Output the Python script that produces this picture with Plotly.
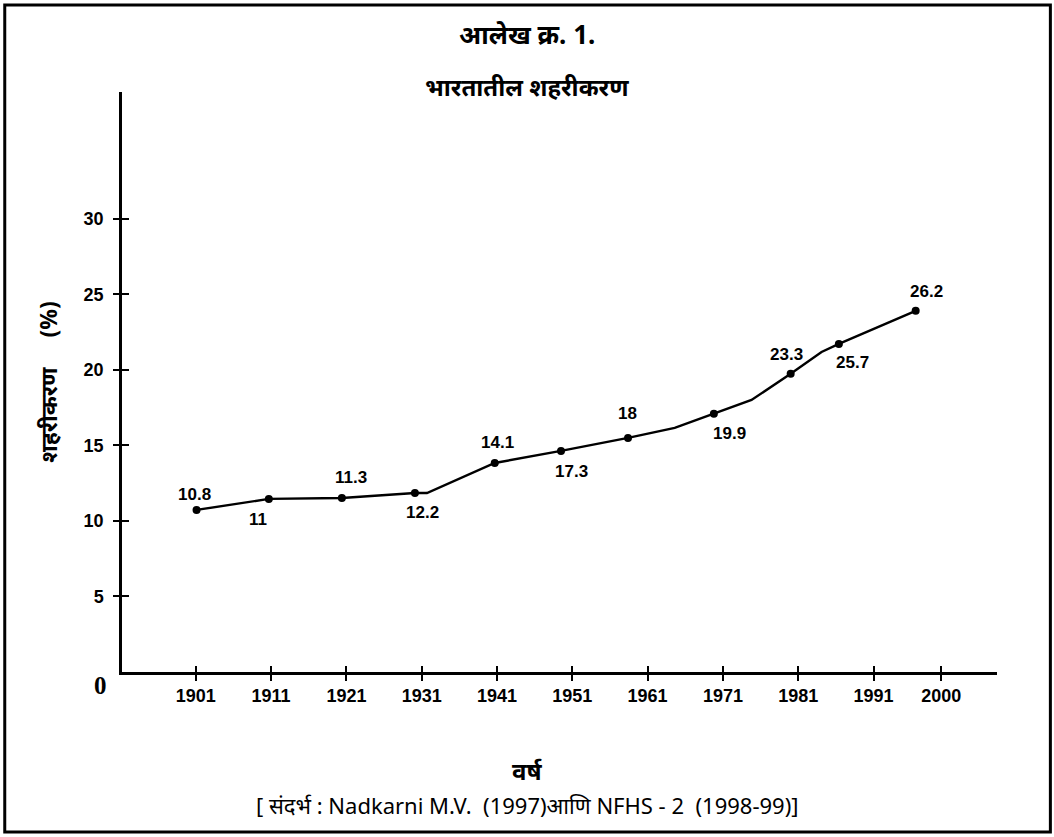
import plotly.graph_objects as go

# ---- data ----
point_years = [1901.1, 1910.7, 1920.4, 1930.1, 1940.7, 1949.5, 1958.4, 1969.8, 1980.0, 1986.4, 1996.6]
point_values = [10.73, 11.46, 11.52, 11.85, 13.84, 14.64, 15.5, 17.09, 19.74, 21.72, 23.91]
point_labels = ["10.8", "11", "11.3", "12.2", "14.1", "17.3", "18", "19.9", "23.3", "25.7", "26.2"]

# unmarked bends of the drawn line
bend_years = [1931.7, 1964.6, 1974.8, 1984.1]
bend_values = [11.85, 16.16, 18.01, 21.19]

x_tick_vals = [1901, 1911, 1921, 1931, 1941, 1951, 1961, 1971, 1981, 1991, 2000]
x_tick_text = ["1901", "1911", "1921", "1931", "1941", "1951", "1961", "1971", "1981", "1991", "2000"]
y_tick_vals = [5, 10, 15, 20, 25, 30]
y_tick_text = ["5", "10", "15", "20", "25", "30"]

title_text = "आलेख क्र. 1."
subtitle_text = "भारतातील शहरीकरण"
x_title = "वर्ष"
y_title = "शहरीकरण\u00a0\u00a0\u00a0\u00a0\u00a0(%)"
source_text = "[ संदर्भ : Nadkarni M.V.  (1997)आणि NFHS - 2  (1998-99)]"
zero_text = "0"

# label offsets (style: pixels)
label_dx = [-2, -11, 9, 8, 3, 10, -1, 16, -4, 14, 11]
label_dy = [15, -21, 21, -19, 20, -21, 24, -20, 19, -19, 19]

path = sorted(zip(point_years + bend_years, point_values + bend_values))
path_x = [p[0] for p in path]
path_y = [p[1] for p in path]

NUM_FONT = "Liberation Sans Narrow, Arial Narrow, Liberation Sans, Arial, sans-serif"
DEV_FONT = "Noto Sans, Noto Sans Devanagari, Lohit Devanagari, sans-serif"
X_RANGE = [1891.2, 2007.4]
Y_RANGE = [0, 38.4]

fig = go.Figure()
fig.add_trace(go.Scatter(x=path_x, y=path_y, mode="lines",
                         line=dict(color="black", width=2.4), hoverinfo="skip",
                         showlegend=False))
fig.add_trace(go.Scatter(x=point_years, y=point_values, mode="markers",
                         marker=dict(color="black", size=8),
                         showlegend=False))
# invisible trace to carry the overlay axes (inner half of the crossing ticks)
fig.add_trace(go.Scatter(x=point_years, y=point_values, mode="markers",
                         marker=dict(opacity=0), xaxis="x2", yaxis="y2",
                         hoverinfo="skip", showlegend=False))

for x, y, t, dx, dy in zip(point_years, point_values, point_labels, label_dx, label_dy):
    fig.add_annotation(x=x, y=y, text=t, showarrow=False, xshift=dx, yshift=dy,
                       xanchor="center", yanchor="middle",
                       font=dict(family=NUM_FONT, size=17, color="black", weight="bold"))

tick_font = dict(family=NUM_FONT, size=18, color="black", weight="bold")
fig.update_layout(
    xaxis=dict(range=X_RANGE, tickvals=x_tick_vals, ticktext=x_tick_text,
               showline=True, linecolor="black", linewidth=2.5,
               ticks="outside", ticklen=6, tickwidth=2, tickcolor="black",
               showgrid=False, zeroline=False, tickfont=tick_font),
    yaxis=dict(range=Y_RANGE, tickvals=y_tick_vals, ticktext=y_tick_text,
               showline=True, linecolor="black", linewidth=2.5,
               ticks="outside", ticklen=6, tickwidth=2, tickcolor="black",
               ticklabelstandoff=6,
               showgrid=False, zeroline=False, tickfont=tick_font),
    xaxis2=dict(range=X_RANGE, tickvals=x_tick_vals, overlaying="x", anchor="y2",
                ticks="inside", ticklen=6, tickwidth=2, tickcolor="black",
                showticklabels=False, showline=False, showgrid=False, zeroline=False),
    yaxis2=dict(range=Y_RANGE, tickvals=y_tick_vals, overlaying="y", anchor="x2", side="left",
                ticks="inside", ticklen=7, tickwidth=2, tickcolor="black",
                showticklabels=False, showline=False, showgrid=False, zeroline=False),
)

# titles and texts
def paper_text(x, y, text, size, bold=True, angle=0, family=DEV_FONT):
    fig.add_annotation(xref="paper", yref="paper", x=x, y=y, text=text, textangle=angle,
                       xanchor="center", yanchor="middle", showarrow=False,
                       font=dict(family=family, size=size, color="black",
                                 weight="bold" if bold else "normal"))

paper_text(0.463, 1.100, title_text, 26)
paper_text(0.463, 1.010, subtitle_text, 24)
paper_text(0.463, -0.169, x_title, 24)
paper_text(0.463, -0.229, source_text, 22, bold=False)
paper_text(-0.085, 0.50, y_title, 23, angle=-90)
paper_text(-0.025, -0.024, zero_text, 25, family="Liberation Serif, serif")

# outer frame of the figure
fig.add_shape(type="rect", xref="paper", yref="paper", x0=-0.134, x1=1.061, y0=-0.276, y1=1.150,
              line=dict(color="black", width=3))

fig.update_layout(width=1054, height=837, plot_bgcolor="white", paper_bgcolor="white",
                  margin=dict(l=122, r=57, t=92, b=165), showlegend=False)

fig.write_html("out.html", config={"displayModeBar": False},
               post_script="document.body.style.margin='0';")
